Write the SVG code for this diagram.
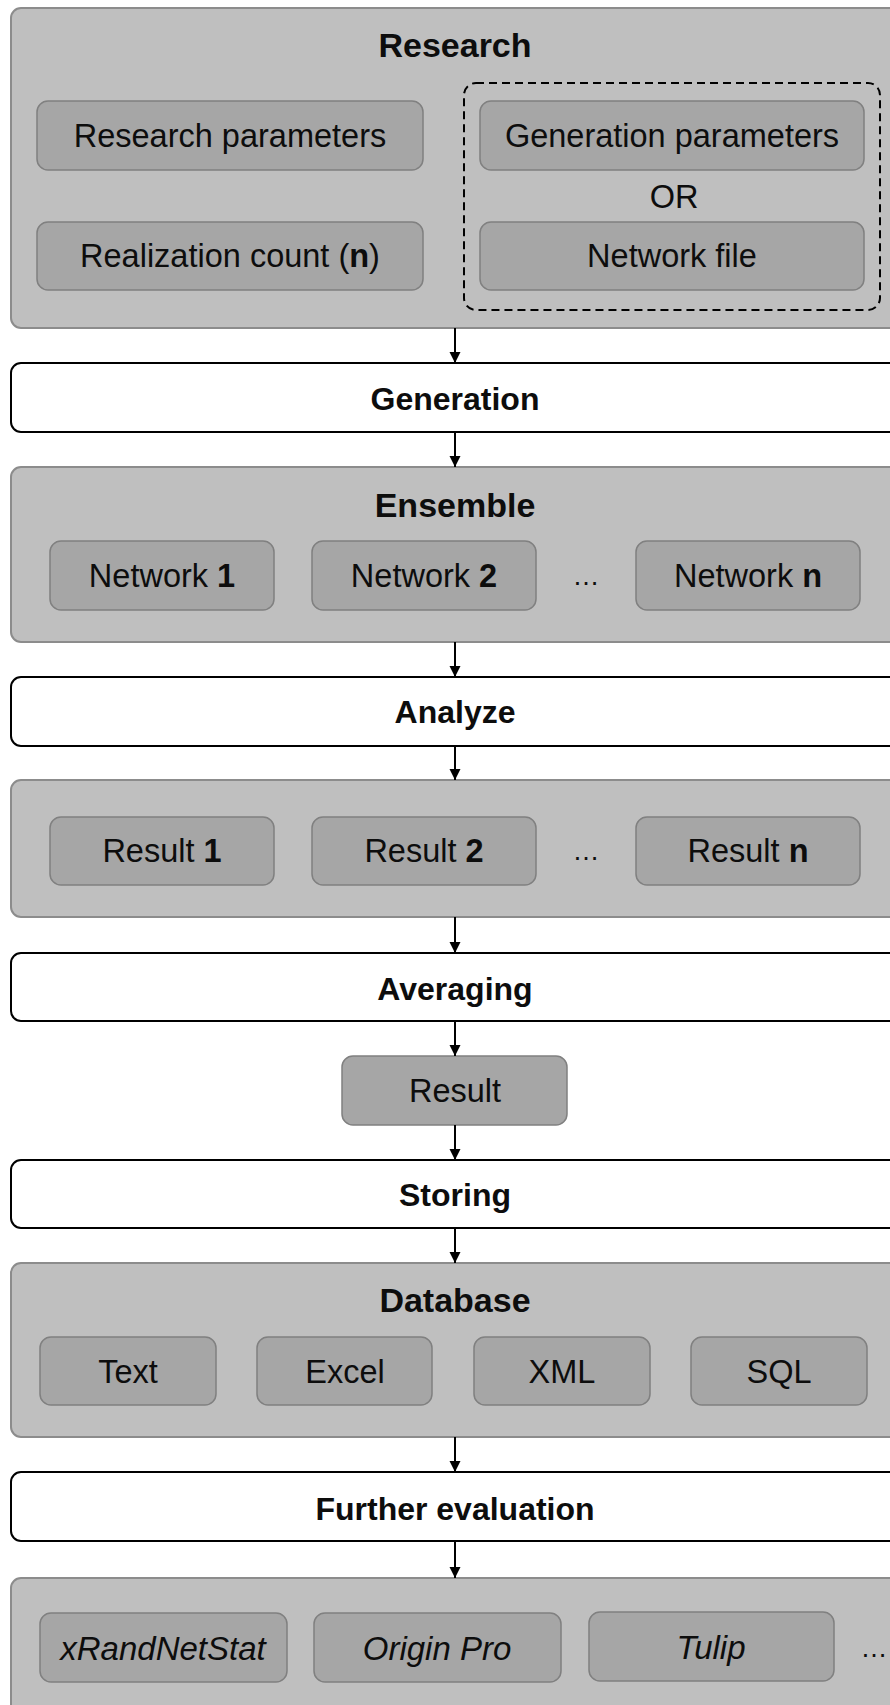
<svg xmlns="http://www.w3.org/2000/svg" width="890" height="1705" viewBox="0 0 890 1705">
<defs>
<style>
.outer{fill:#bfbfbf;stroke:#8c8c8c;stroke-width:2}
.item{fill:#a6a6a6;stroke:#808080;stroke-width:1.5}
.step{fill:#ffffff;stroke:#000000;stroke-width:2}
.dash{fill:none;stroke:#000000;stroke-width:2;stroke-dasharray:8 5}
text{font-family:"Liberation Sans",Arial,sans-serif;fill:#0d0d0d;text-anchor:middle}
.t{font-size:32.5px}
.title{font-size:34px;font-weight:bold}
.lbl{font-size:32px;font-weight:bold}
.it{font-size:33px;font-style:italic}
.b{font-weight:bold}
.dots{font-size:27px}
.conn line{stroke:#000;stroke-width:2;marker-end:url(#ah)}
</style>
<marker id="ah" markerUnits="userSpaceOnUse" markerWidth="11" markerHeight="12" refX="11" refY="5.5" orient="auto" viewBox="0 0 11 11">
<path d="M0,0 L11,5.5 L0,11 z" fill="#000"/>
</marker>
</defs>

<g id="research">
<rect class="outer" x="11" y="8" width="900" height="320" rx="10"/>
<text class="title" x="455" y="57">Research</text>
<g id="research-params"><rect class="item" x="37" y="101" width="386" height="69" rx="11"/><text class="t" x="230" y="147">Research parameters</text></g>
<g id="realization-count"><rect class="item" x="37" y="222" width="386" height="68" rx="11"/><text class="t" x="230" y="267">Realization count (<tspan class="b">n</tspan>)</text></g>
<g id="source-choice">
<rect class="dash" x="464" y="83" width="416" height="227" rx="12"/>
<g id="generation-params"><rect class="item" x="480" y="101" width="384" height="69" rx="11"/><text class="t" x="672" y="147">Generation parameters</text></g>
<text class="t" x="674" y="208">OR</text>
<g id="network-file"><rect class="item" x="480" y="222" width="384" height="68" rx="11"/><text class="t" x="672" y="267">Network file</text></g>
</g>
</g>

<g id="generation"><rect class="step" x="11" y="363" width="900" height="69" rx="10"/><text class="lbl" x="455" y="410">Generation</text></g>

<g id="ensemble">
<rect class="outer" x="11" y="467" width="900" height="175" rx="10"/>
<text class="title" x="455" y="517">Ensemble</text>
<g id="network-1"><rect class="item" x="50" y="541" width="224" height="69" rx="11"/><text class="t" x="162" y="587">Network <tspan class="b">1</tspan></text></g>
<g id="network-2"><rect class="item" x="312" y="541" width="224" height="69" rx="11"/><text class="t" x="424" y="587">Network <tspan class="b">2</tspan></text></g>
<text class="dots" x="586" y="585">…</text>
<g id="network-n"><rect class="item" x="636" y="541" width="224" height="69" rx="11"/><text class="t" x="748" y="587">Network <tspan class="b">n</tspan></text></g>
</g>

<g id="analyze"><rect class="step" x="11" y="677" width="900" height="69" rx="10"/><text class="lbl" x="455" y="723">Analyze</text></g>

<g id="results">
<rect class="outer" x="11" y="780" width="900" height="137" rx="10"/>
<g id="result-1"><rect class="item" x="50" y="817" width="224" height="68" rx="11"/><text class="t" x="162" y="862">Result <tspan class="b">1</tspan></text></g>
<g id="result-2"><rect class="item" x="312" y="817" width="224" height="68" rx="11"/><text class="t" x="424" y="862">Result <tspan class="b">2</tspan></text></g>
<text class="dots" x="586" y="860">…</text>
<g id="result-n"><rect class="item" x="636" y="817" width="224" height="68" rx="11"/><text class="t" x="748" y="862">Result <tspan class="b">n</tspan></text></g>
</g>

<g id="averaging"><rect class="step" x="11" y="953" width="900" height="68" rx="10"/><text class="lbl" x="455" y="1000">Averaging</text></g>

<g id="result"><rect class="item" x="342" y="1056" width="225" height="69" rx="11"/><text class="t" x="455" y="1102">Result</text></g>

<g id="storing"><rect class="step" x="11" y="1160" width="900" height="68" rx="10"/><text class="lbl" x="455" y="1206">Storing</text></g>

<g id="database">
<rect class="outer" x="11" y="1263" width="900" height="174" rx="10"/>
<text class="title" x="455" y="1312">Database</text>
<g id="db-text"><rect class="item" x="40" y="1337" width="176" height="68" rx="11"/><text class="t" x="128" y="1383">Text</text></g>
<g id="db-excel"><rect class="item" x="257" y="1337" width="175" height="68" rx="11"/><text class="t" x="345" y="1383">Excel</text></g>
<g id="db-xml"><rect class="item" x="474" y="1337" width="176" height="68" rx="11"/><text class="t" x="562" y="1383">XML</text></g>
<g id="db-sql"><rect class="item" x="691" y="1337" width="176" height="68" rx="11"/><text class="t" x="779" y="1383">SQL</text></g>
</g>

<g id="further-evaluation"><rect class="step" x="11" y="1472" width="900" height="69" rx="10"/><text class="lbl" x="455" y="1520">Further evaluation</text></g>

<g id="tools">
<rect class="outer" x="11" y="1578" width="900" height="200" rx="10"/>
<g id="tool-xrandnetstat"><rect class="item" x="40" y="1613" width="247" height="69" rx="11"/><text class="it" x="163" y="1660">xRandNetStat</text></g>
<g id="tool-origin"><rect class="item" x="314" y="1613" width="247" height="69" rx="11"/><text class="it" x="437" y="1660">Origin Pro</text></g>
<g id="tool-tulip"><rect class="item" x="589" y="1612" width="245" height="69" rx="11"/><text class="it" x="711" y="1659">Tulip</text></g>
<text class="dots" x="874" y="1657">…</text>
</g>

<g id="connectors" class="conn">
<line x1="455" y1="328" x2="455" y2="363"/>
<line x1="455" y1="432" x2="455" y2="467"/>
<line x1="455" y1="642" x2="455" y2="677"/>
<line x1="455" y1="746" x2="455" y2="780"/>
<line x1="455" y1="917" x2="455" y2="953"/>
<line x1="455" y1="1021" x2="455" y2="1056"/>
<line x1="455" y1="1125" x2="455" y2="1160"/>
<line x1="455" y1="1228" x2="455" y2="1263"/>
<line x1="455" y1="1437" x2="455" y2="1472"/>
<line x1="455" y1="1541" x2="455" y2="1578"/>
</g>
</svg>
